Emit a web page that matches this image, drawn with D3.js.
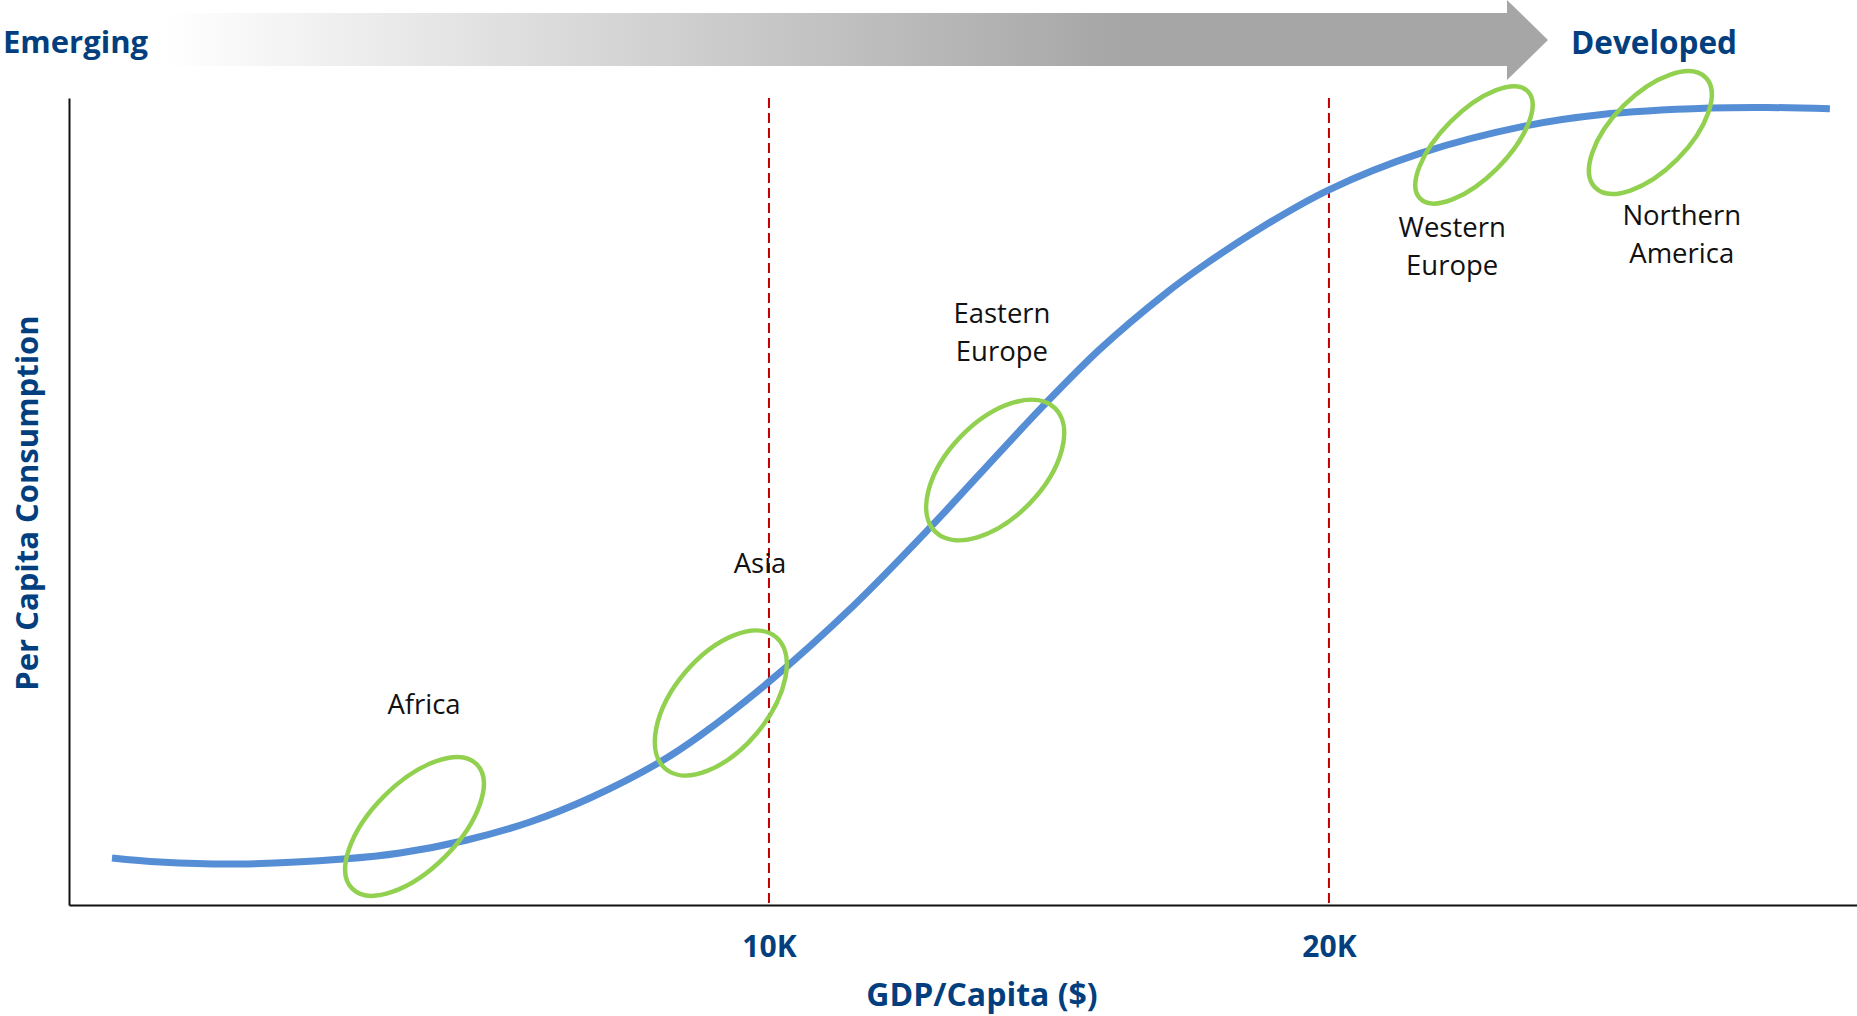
<!DOCTYPE html>
<html>
<head>
<meta charset="utf-8">
<script src="https://cdn.jsdelivr.net/npm/d3@7"></script>
<style>
  html, body { margin: 0; padding: 0; background: #fff; }
  svg { display: block; }
</style>
</head>
<body>
<svg id="chart" width="1857" height="1016"></svg>
<script>
// ---- data ----
// S-curve: GDP per capita (thousand $) vs per capita consumption (index 0-100)
const gdp = [-1.732, -0.875, 0.554, 2.393, 3.411, 4.607, 5.732, 6.804, 8.054, 8.768, 10.0, 11.5, 12.875, 14.125, 14.893, 15.911, 17.071, 17.696, 18.768, 20.0, 21.625, 23.536, 24.839, 26.804, 27.821, 28.946];
const consumption = [5.824, 5.328, 5.080, 5.700, 6.444, 8.055, 10.285, 13.259, 17.720, 20.991, 27.658, 37.026, 46.753, 56.121, 61.822, 68.885, 75.725, 78.934, 83.841, 88.625, 93.135, 96.580, 97.931, 98.749, 98.823, 98.662];

const tickValues = [10, 20];
const tickLabels = ["10K", "20K"];

const regions = ["Africa", "Asia", "Eastern Europe", "Western Europe", "Northern America"];
const regionGdp = [3.67, 9.14, 14.04, 22.59, 25.74];
const regionConsumption = [9.73, 25.03, 53.90, 94.18, 95.72];
const labelGdp = [3.84, 9.84, 14.16, 22.20, 26.30];
const labelConsumption = [23.67, 41.14, 72.12, 82.78, 84.26];

const xTitle = "GDP/Capita ($)";
const yTitle = "Per Capita Consumption";
const leftTitle = "Emerging";
const rightTitle = "Developed";

// ---- layout / style ----
const ellipseShape = [ // rx, ry, rotation (deg)
  [88, 43, -45], [86, 47, -50], [86, 48, -46], [76, 33, -45], [78, 38, -45]
];
const blue = "#558ED5", green = "#92D050", red = "#C00000", navy = "#033F7E";

const svg = d3.select("#chart");
const x = d3.scaleLinear().domain([-2.5, 29.43]).range([69, 1857]);
const y = d3.scaleLinear().domain([0, 100]).range([905, 98]);

// gradient arrow
const defs = svg.append("defs");
const grad = defs.append("linearGradient").attr("id", "arrowGrad")
  .attr("gradientUnits", "userSpaceOnUse").attr("x1", 165).attr("x2", 1120).attr("y1", 0).attr("y2", 0);
grad.append("stop").attr("offset", 0).attr("stop-color", "#ffffff");
grad.append("stop").attr("offset", 1).attr("stop-color", "#A6A6A6");
svg.append("path")
  .attr("d", "M165,13 L1507,13 L1507,0 L1548,40 L1507,80 L1507,66 L165,66 Z")
  .attr("fill", "url(#arrowGrad)");

svg.append("text").attr("x", 3).attr("y", 53).text(leftTitle)
  .attr("font-family", "Open Sans").attr("font-weight", 700).attr("font-size", 31).attr("fill", navy);
svg.append("text").attr("x", 1571).attr("y", 54).text(rightTitle)
  .attr("font-family", "Open Sans").attr("font-weight", 700).attr("font-size", 31.5).attr("fill", navy);

// dashed reference lines
svg.selectAll("line.ref").data(tickValues).enter().append("line")
  .attr("class", "ref")
  .attr("x1", d => x(d)).attr("x2", d => x(d))
  .attr("y1", y(100)).attr("y2", y(0))
  .attr("stroke", red).attr("stroke-width", 2).attr("stroke-dasharray", "10,5");

// axes
const xAxis = d3.axisBottom(x).tickValues(tickValues).tickFormat((d, i) => tickLabels[i])
  .tickSizeInner(0).tickSizeOuter(0);
const gx = svg.append("g").attr("transform", `translate(0,${y(0)})`).call(xAxis);
gx.select(".domain").attr("stroke", "#111").attr("stroke-width", 2);
gx.selectAll("text").attr("y", 52).attr("dy", 0)
  .attr("font-family", "Open Sans").attr("font-weight", 700).attr("font-size", 30).attr("fill", navy);

const yAxis = d3.axisLeft(y).tickValues([]).tickSizeOuter(0);
const gy = svg.append("g").attr("transform", `translate(${x(-2.5)},0)`).call(yAxis);
gy.select(".domain").attr("stroke", "#111").attr("stroke-width", 2);

svg.append("text").attr("x", 982).attr("y", 1006).attr("text-anchor", "middle").text(xTitle)
  .attr("font-family", "Open Sans").attr("font-weight", 700).attr("font-size", 32).attr("fill", navy);
svg.append("text").attr("transform", "translate(38,503) rotate(-90)").attr("text-anchor", "middle").text(yTitle)
  .attr("font-family", "Open Sans").attr("font-weight", 700).attr("font-size", 31).attr("fill", navy);

// curve
const pts = gdp.map((g, i) => [g, consumption[i]]);
const line = d3.line().x(d => x(d[0])).y(d => y(d[1])).curve(d3.curveCatmullRom.alpha(0.5));
svg.append("path").attr("d", line(pts)).attr("fill", "none")
  .attr("stroke", blue).attr("stroke-width", 7);

// ellipses
svg.selectAll("ellipse.reg").data(regions).enter().append("ellipse")
  .attr("class", "reg")
  .attr("transform", (d, i) => `translate(${x(regionGdp[i])},${y(regionConsumption[i])}) rotate(${ellipseShape[i][2]})`)
  .attr("rx", (d, i) => ellipseShape[i][0]).attr("ry", (d, i) => ellipseShape[i][1])
  .attr("fill", "none").attr("stroke", green).attr("stroke-width", 4.5);

// labels
regions.forEach((r, i) => {
  const words = r.split(" ");
  const t = svg.append("text").attr("text-anchor", "middle")
    .attr("font-family", "Open Sans").attr("font-size", 27.5).attr("fill", "#111");
  words.forEach((w, j) => {
    t.append("tspan").attr("x", x(labelGdp[i])).attr("y", y(labelConsumption[i]) + j * 38).text(w);
  });
});
</script>
</body>
</html>
